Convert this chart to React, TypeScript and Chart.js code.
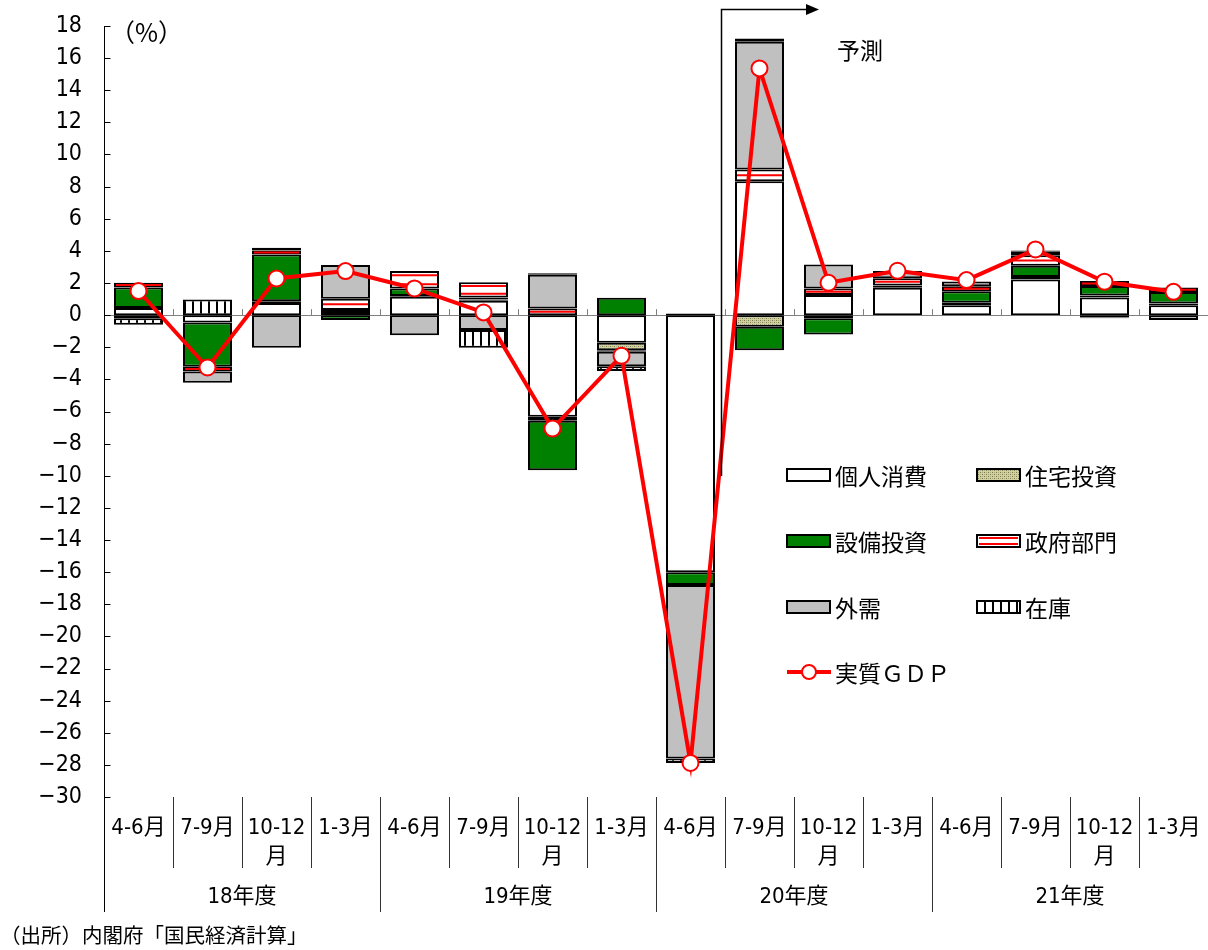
import React, { useEffect, useRef } from "react";
import { Chart, registerables } from "chart.js";

Chart.register(...registerables);

// ---------- data ----------
const years = ["18年度", "19年度", "20年度", "21年度"];
const quarters = ["4-6月", "7-9月", "10-12月", "1-3月"];
const categories = years.flatMap((y) => quarters.map((q) => `${y} ${q}`));

const seriesNames = ["個人消費", "住宅投資", "設備投資", "政府部門", "外需", "在庫"];
const gdpName = "実質ＧＤＰ";

const consumption = [0.45, -0.46, 0.75, 0.2, 1.14, 0.9, -6.33, -1.72, -16.0, 8.34, 1.25, 1.7, 0.62, 2.22, 1.1, 0.62];
const housing = [-0.2, null, 0.12, 0.12, 0.05, 0.08, -0.25, -0.46, null, -0.73, -0.2, 0.05, 0.15, 0.15, 0.12, 0.1];
const capex = [1.27, -2.75, 2.9, -0.31, 0.46, 0.12, -3.07, 1.08, -0.8, -1.45, -1.0, 0.1, 0.72, 0.7, 0.6, 0.72];
const government = [0.3, -0.3, 0.25, 0.7, 1.1, 0.95, 0.41, -0.1, 0.1, 0.73, 0.4, 0.45, 0.3, 0.65, 0.3, 0.28];
const netExports = [null, -0.7, -2.03, 2.1, -1.25, -0.93, 2.1, -0.9, -10.8, 7.95, 1.5, 0.45, 0.3, 0.25, -0.15, -0.3];
const inventory = [-0.4, 0.98, 0.18, null, null, -1.1, 0.1, -0.3, -0.28, 0.2, null, null, null, 0.05, -0.05, null];
const realGDP = [1.5, -3.26, 2.28, 2.74, 1.66, 0.17, -7.06, -2.53, -27.88, 15.36, 2.01, 2.76, 2.18, 4.09, 2.08, 1.45];

const yMin = -30;
const yMax = 18;
const yStep = 2;

const unitLabel = "（%）";
const forecastLabel = "予測";
const forecastStartIndex = 9;
const sourceText = "（出所）内閣府「国民経済計算」";

// ---------- styles ----------
const NARROW = "'Liberation Sans Narrow', 'DejaVu Sans Condensed', 'Noto Sans CJK JP', sans-serif";
const CJK = "'Noto Sans CJK JP', sans-serif";

function makePattern(w: number, h: number, draw: (g: CanvasRenderingContext2D) => void) {
  const c = document.createElement("canvas");
  c.width = w;
  c.height = h;
  const g = c.getContext("2d")!;
  draw(g);
  return g.createPattern(c, "repeat")!;
}

export default function App() {
  const ref = useRef<HTMLCanvasElement | null>(null);

  useEffect(() => {
    const canvas = ref.current!;
    const housingPat = makePattern(4, 4, (g) => {
      g.fillStyle = "#d2d2a0";
      g.fillRect(0, 0, 4, 4);
      g.fillStyle = "#7a7a50";
      g.fillRect(0, 0, 1, 1);
      g.fillRect(2, 2, 1, 1);
      g.fillStyle = "#a8a878";
      g.fillRect(2, 0, 1, 1);
      g.fillRect(0, 2, 1, 1);
    });
    const invPat = makePattern(8, 8, (g) => {
      g.fillStyle = "#ffffff";
      g.fillRect(0, 0, 8, 8);
      g.fillStyle = "#000000";
      g.fillRect(0, 0, 2, 8);
    });

    const fills: any[] = ["#ffffff", housingPat, "#008000", "#ffffff", "#c0c0c0", invPat];
    const values = [consumption, housing, capex, government, netExports, inventory];
    const GOV = 3;

    const drawGovStripes = (ctx: CanvasRenderingContext2D, left: number, right: number, top: number, bottom: number) => {
      const h = bottom - top;
      if (!(h > 2.5)) return;
      const n = Math.max(1, Math.round(h / 8));
      ctx.save();
      ctx.strokeStyle = "#ff0000";
      ctx.lineWidth = 2;
      for (let k = 0; k < n; k++) {
        const yy = top + (h / n) * (k + 0.5);
        ctx.beginPath();
        ctx.moveTo(left + 2, yy);
        ctx.lineTo(right - 2, yy);
        ctx.stroke();
      }
      ctx.restore();
    };

    const govPlugin = {
      id: "govStripes",
      afterDatasetDraw(chart: any, args: any) {
        if (args.index !== GOV) return;
        const ctx = chart.ctx;
        args.meta.data.forEach((el: any, i: number) => {
          if (government[i] == null) return;
          const p = el.getProps(["x", "y", "base", "width"], true);
          if (!isFinite(p.y) || !isFinite(p.base)) return;
          const top = Math.min(p.y, p.base);
          const bot = Math.max(p.y, p.base);
          drawGovStripes(ctx, p.x - p.width / 2, p.x + p.width / 2, top, bot);
        });
      },
    };

    const decorPlugin = {
      id: "decor",
      beforeDatasetsDraw(chart: any) {
        const { ctx, chartArea: ca } = chart;
        const x = chart.scales.x;
        const y = chart.scales.y;
        const y0 = y.getPixelForValue(0);
        ctx.save();
        ctx.strokeStyle = "#808080";
        ctx.lineWidth = 1;
        ctx.beginPath();
        ctx.moveTo(ca.left, Math.round(y0) + 0.5);
        ctx.lineTo(ca.right, Math.round(y0) + 0.5);
        ctx.stroke();
        const half = (x.getPixelForValue(1) - x.getPixelForValue(0)) / 2;
        for (let i = 1; i < categories.length; i++) {
          const bx = Math.round(x.getPixelForValue(i) - half) + 0.5;
          ctx.beginPath();
          ctx.moveTo(bx, y0);
          ctx.lineTo(bx, y0 - 6);
          ctx.stroke();
        }
        ctx.restore();
      },
      afterDraw(chart: any) {
        const { ctx, chartArea: ca } = chart;
        const x = chart.scales.x;
        const y = chart.scales.y;
        const half = (x.getPixelForValue(1) - x.getPixelForValue(0)) / 2;
        ctx.save();
        // y axis line
        ctx.strokeStyle = "#000000";
        ctx.lineWidth = 1;
        const ax = Math.round(ca.left) + 0.5;
        ctx.beginPath();
        ctx.moveTo(ax, y.getPixelForValue(yMax));
        ctx.lineTo(ax, 912);
        ctx.stroke();
        for (let v = yMin; v <= yMax; v += yStep) {
          const ty = Math.round(y.getPixelForValue(v)) + 0.5;
          ctx.beginPath();
          ctx.moveTo(ax, ty);
          ctx.lineTo(ax + 6, ty);
          ctx.stroke();
        }
        // category separators
        ctx.strokeStyle = "#333333";
        for (let i = 1; i < categories.length; i++) {
          const bx = Math.round(x.getPixelForValue(i) - half) + 0.5;
          ctx.beginPath();
          ctx.moveTo(bx, ca.bottom);
          ctx.lineTo(bx, i % 4 === 0 ? 912 : 868);
          ctx.stroke();
        }
        // quarter labels
        ctx.fillStyle = "#000000";
        ctx.textAlign = "center";
        ctx.textBaseline = "middle";
        ctx.font = `22px ${NARROW}`;
        categories.forEach((_, i) => {
          const q = quarters[i % 4];
          const cx = x.getPixelForValue(i);
          if (q.length > 4) {
            ctx.fillText(q.slice(0, -1), cx, 828);
            ctx.fillText(q.slice(-1), cx, 857);
          } else {
            ctx.fillText(q, cx, 828);
          }
        });
        years.forEach((yr, k) => {
          const cx = (x.getPixelForValue(k * 4) + x.getPixelForValue(k * 4 + 3)) / 2;
          ctx.fillText(yr, cx, 897);
        });
        // source
        ctx.textAlign = "left";
        ctx.font = `20.5px ${CJK}`;
        ctx.fillText(sourceText, 0, 935);
        // unit
        ctx.font = `25px ${CJK}`;
        ctx.fillText(unitLabel, 110, 32);
        // forecast bracket
        const fx = Math.round(x.getPixelForValue(forecastStartIndex) - half) - 3.5;
        ctx.strokeStyle = "#000000";
        ctx.lineWidth = 1.5;
        ctx.beginPath();
        ctx.moveTo(fx, 476);
        ctx.lineTo(fx, 9.5);
        ctx.lineTo(806, 9.5);
        ctx.stroke();
        ctx.fillStyle = "#000000";
        ctx.beginPath();
        ctx.moveTo(806, 4);
        ctx.lineTo(819, 9.5);
        ctx.lineTo(806, 15);
        ctx.closePath();
        ctx.fill();
        ctx.font = `23px ${CJK}`;
        ctx.fillText(forecastLabel, 837, 50);

        // legend
        const rows = [475, 541, 607];
        const cols = [787, 977];
        ctx.font = `23px ${CJK}`;
        seriesNames.forEach((name, i) => {
          const sx = cols[i % 2];
          const sy = rows[Math.floor(i / 2)];
          ctx.fillStyle = fills[i];
          ctx.fillRect(sx, sy - 6, 43, 12);
          if (i === GOV) drawGovStripes(ctx, sx, sx + 43, sy - 6, sy + 6);
          ctx.strokeStyle = "#000000";
          ctx.lineWidth = 2;
          ctx.strokeRect(sx, sy - 6, 43, 12);
          ctx.fillStyle = "#000000";
          ctx.fillText(name, sx + 48, sy + 1);
        });
        const gy = 672;
        ctx.strokeStyle = "#ff0000";
        ctx.lineWidth = 4;
        ctx.beginPath();
        ctx.moveTo(787, gy);
        ctx.lineTo(831, gy);
        ctx.stroke();
        ctx.fillStyle = "#ffffff";
        ctx.lineWidth = 2;
        ctx.beginPath();
        ctx.arc(809, gy, 7, 0, Math.PI * 2);
        ctx.fill();
        ctx.stroke();
        ctx.fillStyle = "#000000";
        ctx.fillText(gdpName, 835, gy + 1);
        ctx.restore();
      },
    };

    const barSets = seriesNames.map((name, i) => ({
      type: "bar" as const,
      label: name,
      data: values[i],
      backgroundColor: fills[i],
      borderColor: "#000000",
      borderWidth: 2,
      borderSkipped: false as const,
      categoryPercentage: 1,
      barPercentage: 0.71,
      order: 2,
      stack: "s",
    }));

    const chart = new Chart(canvas, {
      type: "bar",
      data: {
        labels: categories,
        datasets: [
          ...barSets,
          {
            type: "line" as const,
            label: gdpName,
            data: realGDP,
            borderColor: "#ff0000",
            borderWidth: 4,
            pointRadius: 8,
            pointBackgroundColor: "#ffffff",
            pointBorderColor: "#ff0000",
            pointBorderWidth: 2,
            tension: 0,
            clip: false,
            order: 0,
            stack: "gdp",
          } as any,
        ],
      },
      options: {
        responsive: false,
        animation: false,
        devicePixelRatio: 1,
        layout: { autoPadding: false, padding: { top: 26, bottom: 153, left: 0, right: -2 } },
        plugins: { legend: { display: false }, tooltip: { enabled: false } },
        scales: {
          x: {
            display: false,
            stacked: true,
            offset: true,
            afterFit: (s: any) => {
              s.paddingLeft = 0;
              s.paddingRight = 0;
            },
          },
          y: {
            stacked: true,
            min: yMin,
            max: yMax,
            grid: { display: false, drawTicks: false },
            border: { display: false },
            ticks: {
              stepSize: yStep,
              padding: 22,
              color: "#000000",
              font: { size: 23, family: NARROW },
              callback: (v: any) => (Number(v) < 0 ? "−" + Math.abs(Number(v)) : String(v)),
            },
            afterFit: (s: any) => {
              s.width = 104;
              s.paddingTop = 0;
              s.paddingBottom = 0;
            },
          },
        },
      },
      plugins: [govPlugin, decorPlugin],
    });
    return () => chart.destroy();
  }, []);

  return (
    <div style={{ position: "absolute", left: 0, top: 0, width: 1208, height: 950, background: "#ffffff" }}>
      <canvas ref={ref} width={1208} height={950} style={{ width: 1208, height: 950 }} />
    </div>
  );
}
